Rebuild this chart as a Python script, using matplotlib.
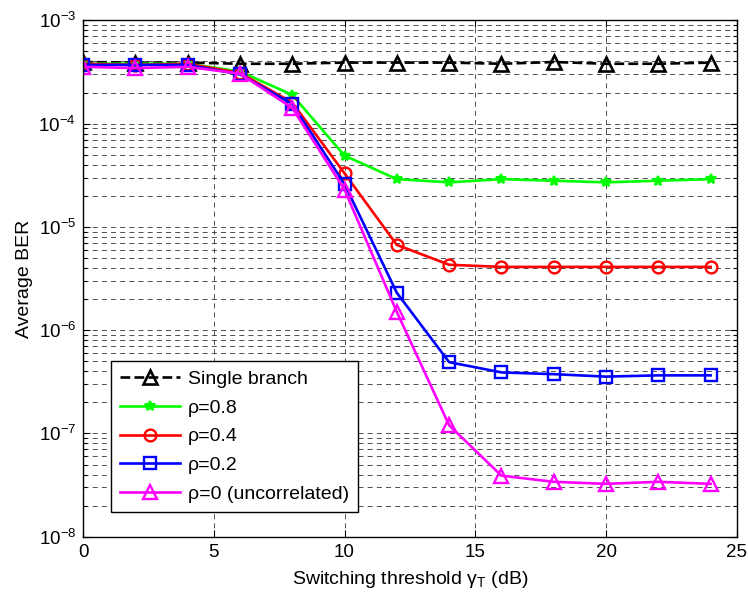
import numpy as np
import matplotlib
matplotlib.use("Agg")
import matplotlib.pyplot as plt
from matplotlib.ticker import LogLocator, NullFormatter, FixedLocator

plt.rcParams['font.family'] = ['Liberation Sans', 'DejaVu Sans']
plt.rcParams['mathtext.fontset'] = 'custom'
plt.rcParams['mathtext.rm'] = 'Liberation Sans'
plt.rcParams['mathtext.it'] = 'Liberation Sans'
plt.rcParams['mathtext.bf'] = 'Liberation Sans:bold'

# switching threshold (dB)
gamma_t = [0, 2, 4, 6, 8, 10, 12, 14, 16, 18, 20, 22, 24]

# average BER curves
ber_single = [3.95e-4, 3.9e-4, 3.9e-4, 3.8e-4, 3.8e-4, 3.9e-4, 3.9e-4,
              3.9e-4, 3.8e-4, 3.95e-4, 3.8e-4, 3.8e-4, 3.9e-4]
ber_rho08 = [3.8e-4, 3.8e-4, 3.8e-4, 3.2e-4, 1.9e-4, 4.9e-5, 2.9e-5,
             2.7e-5, 2.9e-5, 2.8e-5, 2.7e-5, 2.8e-5, 2.9e-5]
ber_rho04 = [3.8e-4, 3.7e-4, 3.8e-4, 3.1e-4, 1.6e-4, 3.3e-5, 6.7e-6,
             4.3e-6, 4.1e-6, 4.1e-6, 4.1e-6, 4.1e-6, 4.1e-6]
ber_rho02 = [3.7e-4, 3.7e-4, 3.7e-4, 3.0e-4, 1.55e-4, 2.6e-5, 2.3e-6,
             4.9e-7, 3.9e-7, 3.75e-7, 3.55e-7, 3.65e-7, 3.65e-7]
ber_rho0 = [3.55e-4, 3.45e-4, 3.55e-4, 3.05e-4, 1.42e-4, 2.3e-5, 1.5e-6,
            1.2e-7, 3.9e-8, 3.4e-8, 3.25e-8, 3.4e-8, 3.25e-8]

labels = ['Single branch', u'\u03c1=0.8', u'\u03c1=0.4', u'\u03c1=0.2',
          u'\u03c1=0 (uncorrelated)']

fig = plt.figure(figsize=(7.48, 5.99), dpi=100)
ax = fig.add_axes([0.111, 0.104, 0.874, 0.862])

lw = 1.9
ax.semilogy(gamma_t, ber_single, '--^', color='k', lw=lw, ms=10,
            mfc='none', mew=1.9, label=labels[0])
ax.semilogy(gamma_t, ber_rho08, '-*', color=(0, 1, 0), lw=lw, ms=7,
            mew=1.6, label=labels[1])
ax.semilogy(gamma_t, ber_rho04, '-o', color='r', lw=lw, ms=8.5,
            mfc='none', mew=1.7, label=labels[2])
ax.semilogy(gamma_t, ber_rho02, '-s', color='b', lw=lw, ms=8.5,
            mfc='none', mew=1.7, label=labels[3])
ax.semilogy(gamma_t, ber_rho0, '-^', color=(1, 0, 1), lw=lw, ms=10,
            mfc='none', mew=1.7, label=labels[4])

ax.set_xlim(0, 25)
ax.set_ylim(1e-8, 1e-3)
ax.xaxis.set_major_locator(FixedLocator([0, 5, 10, 15, 20, 25]))
ax.yaxis.set_major_locator(LogLocator(base=10))
ax.yaxis.set_minor_locator(LogLocator(base=10, subs=np.arange(2, 10)))
ax.yaxis.set_minor_formatter(NullFormatter())

ax.tick_params(which='both', direction='in', top=True, right=True,
               labelsize=13.5, width=0.8)
ax.tick_params(which='major', length=5, pad=5)
ax.tick_params(which='minor', length=3)

# MATLAB-like dashed grid
grid_kw = dict(color='0.2', lw=0.6, linestyle=(0, (6, 5)))
ax.grid(True, which='major', axis='both', **grid_kw)
ax.grid(True, which='minor', axis='y', **grid_kw)

for s in ax.spines.values():
    s.set_linewidth(1.0)

ax.set_xlabel(r'Switching threshold $\mathrm{\gamma_T}$ (dB)', fontsize=14,
              labelpad=6)
ax.set_ylabel('Average BER', fontsize=14, labelpad=4)

leg = ax.legend(loc='lower left', bbox_to_anchor=(0.043, 0.048),
                fontsize=14, handlelength=3.1, fancybox=False,
                framealpha=1, edgecolor='k', borderpad=0.45,
                labelspacing=0.58, borderaxespad=0, handletextpad=0.4)
leg.get_frame().set_linewidth(1.0)

fig.savefig('out.png', dpi=100)
